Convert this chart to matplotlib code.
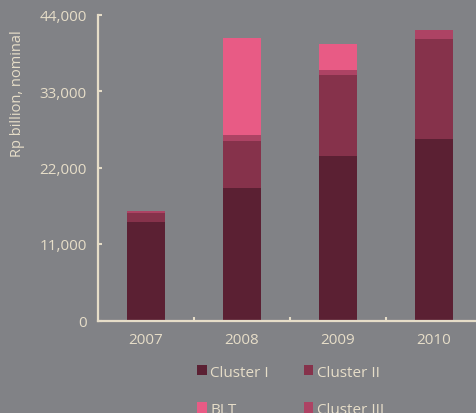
import matplotlib
matplotlib.use("Agg")
import numpy as np
import matplotlib.pyplot as plt

# ====== data ======
years = ["2007", "2008", "2009", "2010"]
cluster_1 = [14200, 19050, 23700, 26100]
cluster_2 = [1260, 6750, 11600, 14400]
cluster_3 = [340, 900, 700, 1200]
blt = [0, 13900, 3700, 0]
yticks = [0, 11000, 22000, 33000, 44000]

# ====== style ======
bg = "#818286"
fg = "#e6ddc8"
col_c1 = "#5b2033"
col_c2 = "#86324b"
col_c3 = "#ad4364"
col_blt = "#e85b85"

plt.rcParams['font.family'] = ['Open Sans', 'DejaVu Sans']

fig = plt.figure(figsize=(4.77, 4.14), dpi=100, facecolor=bg)
ax = fig.add_axes([98 / 477, 92.5 / 414, 384 / 477, 306 / 414])
ax.set_facecolor(bg)

x = np.arange(len(years))
w = 0.4
b1 = np.array(cluster_1)
b2 = b1 + np.array(cluster_2)
b3 = b2 + np.array(cluster_3)

h1 = ax.bar(x, cluster_1, width=w, color=col_c1, label="Cluster I")
h2 = ax.bar(x, cluster_2, width=w, bottom=b1, color=col_c2, label="Cluster II")
h3 = ax.bar(x, cluster_3, width=w, bottom=b2, color=col_c3, label="Cluster III")
h4 = ax.bar(x, blt, width=w, bottom=b3, color=col_blt, label="BLT")

ax.set_xlim(-0.5, 3.5)
ax.set_ylim(0, 44000)
ax.set_yticks(yticks)
ax.set_yticklabels([f"{v:,}" for v in yticks])

# category ticks sit between the bars, labels at bar centres
ax.set_xticks([0.5, 1.5, 2.5])
ax.set_xticklabels([])
ax.set_xticks(x, minor=True)
ax.set_xticklabels(years, minor=True)
ax.tick_params(axis='x', which='minor', length=0, pad=8, labelsize=11, colors=fg)
ax.tick_params(axis='x', which='major', direction='in', length=3, width=1.5, color=fg)
ax.tick_params(axis='y', direction='in', length=3, width=1.5, color=fg,
               labelcolor=fg, labelsize=11, pad=8)

for s in ['top', 'right']:
    ax.spines[s].set_visible(False)
for s in ['left', 'bottom']:
    ax.spines[s].set_color(fg)
    ax.spines[s].set_linewidth(1.6)

fig.text(18 / 477, 1 - 94 / 414, "Rp billion, nominal", rotation=90,
         ha='center', va='center', color=fg, fontsize=10.5)

leg = fig.legend([h1, h4, h2, h3], ["Cluster I", "BLT", "Cluster II", "Cluster III"],
                 ncol=2, frameon=False, loc='upper left',
                 bbox_to_anchor=(183 / 477, 1 - 352 / 414),
                 handlelength=0.65, handleheight=0.65, handletextpad=0.25,
                 columnspacing=2.25, labelspacing=1.45, fontsize=11,
                 labelcolor=fg)

fig.savefig("out.png", dpi=100, facecolor=bg)
